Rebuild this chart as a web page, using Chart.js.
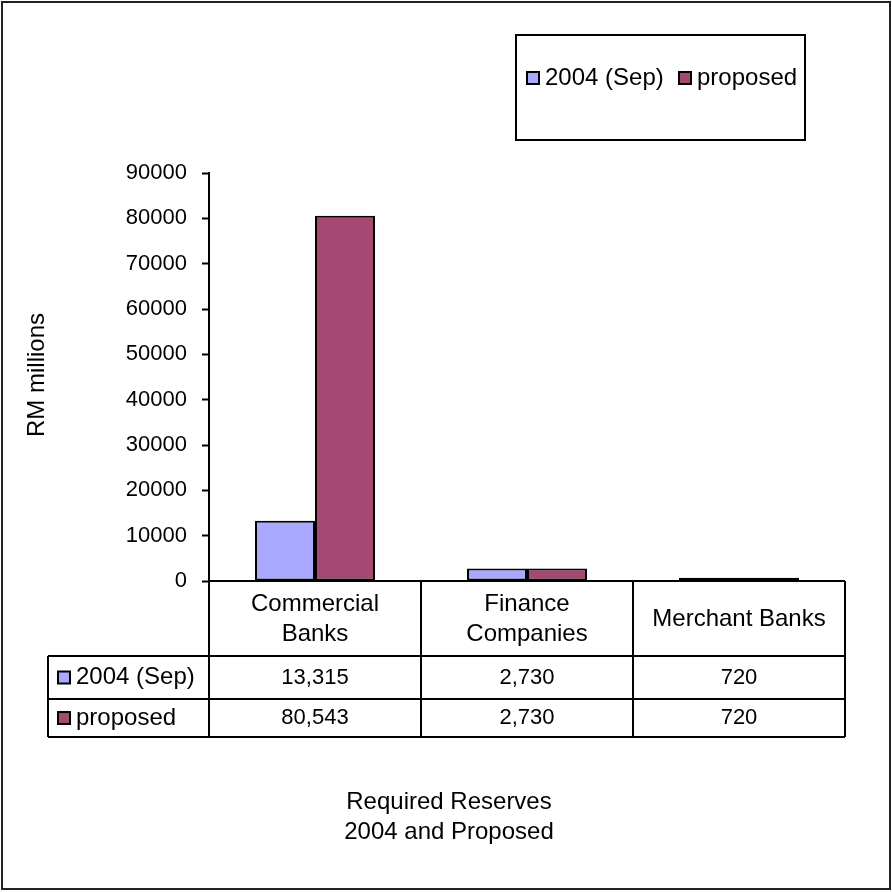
<!DOCTYPE html>
<html>
<head>
<meta charset="utf-8">
<script src="https://cdn.jsdelivr.net/npm/chart.js@4/dist/chart.umd.min.js"></script>
<style>
  html, body { margin: 0; padding: 0; background: #fff; }
  #wrap { width: 892px; height: 892px; }
</style>
</head>
<body>
<div id="wrap"><canvas id="c" width="892" height="892"></canvas></div>
<script>
// Required reserves by institution type, RM millions
const categories = [['Commercial', 'Banks'], ['Finance', 'Companies'], ['Merchant Banks']];
const seriesNames = ['2004 (Sep)', 'proposed'];
const reserves2004 = [13315, 2730, 720];
const reservesProposed = [80543, 2730, 720];
const yTicks = [0, 10000, 20000, 30000, 40000, 50000, 60000, 70000, 80000, 90000];
const titleLines = ['Required Reserves', '2004 and Proposed'];
const yTitle = 'RM millions';

const COLORS = ['#a9a9ff', '#a54872'];
const FONT = '"Liberation Sans", Arial, sans-serif';
const FS_NUM = 22;   // numbers: ticks and table values
const FS_TXT = 24;   // words: headers, legend, titles

function fmt(v) { return v.toLocaleString('en-US'); }

// Draws the data table under the plot, the legend box, the titles and the frame
const decorations = {
  id: 'decorations',
  afterDraw(chart) {
    const ctx = chart.ctx;
    const x = chart.scales.x;
    const area = chart.chartArea;
    const left = area.left, right = area.right, top0 = area.bottom;
    const headBottom = top0 + 75, row1Bottom = headBottom + 43, row2Bottom = row1Bottom + 38;
    const tableLeft = 48;
    const n = categories.length;
    const step = (right - left) / n;
    const edges = [];
    for (let i = 0; i <= n; i++) edges.push(left + step * i);
    const txtFont = FS_TXT + 'px ' + FONT;
    const numFont = FS_NUM + 'px ' + FONT;

    ctx.save();
    ctx.strokeStyle = '#000';
    ctx.lineWidth = 2;
    ctx.beginPath();
    // horizontal rules
    ctx.moveTo(left, top0); ctx.lineTo(right, top0);
    [headBottom, row1Bottom, row2Bottom].forEach(yy => { ctx.moveTo(tableLeft, yy); ctx.lineTo(right, yy); });
    // vertical rules
    edges.forEach(ex => { ctx.moveTo(ex, top0); ctx.lineTo(ex, row2Bottom); });
    ctx.moveTo(tableLeft, headBottom); ctx.lineTo(tableLeft, row2Bottom);
    ctx.stroke();

    ctx.fillStyle = '#000';
    ctx.textAlign = 'center';
    ctx.textBaseline = 'middle';
    // category headers
    ctx.font = txtFont;
    categories.forEach((lab, i) => {
      const cx = x.getPixelForValue(i);
      const midY = (top0 + headBottom) / 2 + 1;
      const lh = 30;
      lab.forEach((ln, k) => {
        ctx.fillText(ln, cx, midY + (k - (lab.length - 1) / 2) * lh);
      });
    });
    // value rows
    const rows = [reserves2004, reservesProposed];
    const rowMids = [(headBottom + row1Bottom) / 2, (row1Bottom + row2Bottom) / 2];
    rows.forEach((vals, r) => {
      ctx.font = numFont;
      vals.forEach((v, i) => ctx.fillText(fmt(v), x.getPixelForValue(i), rowMids[r]));
      // row key
      ctx.fillStyle = COLORS[r];
      ctx.fillRect(58, rowMids[r] - 6, 12, 12);
      ctx.lineWidth = 2;
      ctx.strokeRect(58, rowMids[r] - 6, 12, 12);
      ctx.fillStyle = '#000';
      ctx.textAlign = 'left';
      ctx.font = txtFont;
      ctx.fillText(seriesNames[r], 76, rowMids[r]);
      ctx.textAlign = 'center';
    });

    // legend box
    const lb = { l: 516, t: 35, r: 805, b: 140 };
    ctx.fillStyle = '#fff';
    ctx.fillRect(lb.l, lb.t, lb.r - lb.l, lb.b - lb.t);
    ctx.strokeStyle = '#000';
    ctx.lineWidth = 2;
    ctx.strokeRect(lb.l, lb.t, lb.r - lb.l, lb.b - lb.t);
    const ly = 78;
    const keyX = [527, 679];
    ctx.save();
    ctx.beginPath();
    ctx.rect(lb.l, lb.t, lb.r - lb.l, lb.b - lb.t);
    ctx.clip();
    ctx.font = txtFont;
    seriesNames.forEach((name, i) => {
      ctx.fillStyle = COLORS[i];
      ctx.fillRect(keyX[i], ly - 6, 12, 12);
      ctx.strokeRect(keyX[i], ly - 6, 12, 12);
      ctx.fillStyle = '#000';
      ctx.textAlign = 'left';
      ctx.fillText(name, keyX[i] + 18, ly);
    });
    ctx.restore();

    // axis title
    ctx.save();
    ctx.translate(37, 375);
    ctx.rotate(-Math.PI / 2);
    ctx.textAlign = 'center';
    ctx.textBaseline = 'middle';
    ctx.fillStyle = '#000';
    ctx.font = txtFont;
    ctx.fillText(yTitle, 0, 0);
    ctx.restore();

    // chart title under the table
    ctx.fillStyle = '#000';
    ctx.textAlign = 'center';
    ctx.font = txtFont;
    titleLines.forEach((t, i) => ctx.fillText(t, 449, 802 + i * 30));

    // outer frame
    ctx.strokeStyle = '#222';
    ctx.lineWidth = 2;
    ctx.strokeRect(2, 2, 888, 887);
    ctx.restore();
  }
};

new Chart(document.getElementById('c'), {
  type: 'bar',
  data: {
    labels: categories,
    datasets: [
      { label: seriesNames[0], data: reserves2004, backgroundColor: COLORS[0] },
      { label: seriesNames[1], data: reservesProposed, backgroundColor: COLORS[1] }
    ]
  },
  options: {
    responsive: false,
    animation: false,
    devicePixelRatio: 1,
    layout: { padding: { top: 173, bottom: 311, left: 0, right: 47 } },
    datasets: {
      bar: {
        borderColor: '#000',
        borderWidth: 2,
        borderSkipped: false,
        barPercentage: 1.0,
        categoryPercentage: 0.566
      }
    },
    plugins: {
      legend: { display: false },
      tooltip: { enabled: false },
      title: { display: false }
    },
    scales: {
      x: { display: false },
      y: {
        min: 0,
        max: 90000,
        afterFit(scale) { scale.width = 209; },
        afterBuildTicks(scale) { scale.ticks = yTicks.map(v => ({ value: v })); },
        border: { display: true, color: '#000', width: 2 },
        grid: {
          drawOnChartArea: false,
          drawTicks: true,
          tickLength: 7,
          tickColor: '#000',
          tickWidth: 2
        },
        ticks: {
          color: '#000',
          padding: 15,
          font: { family: FONT, size: FS_NUM },
          callback: v => String(v)
        }
      }
    }
  },
  plugins: [decorations]
});
</script>
</body>
</html>
